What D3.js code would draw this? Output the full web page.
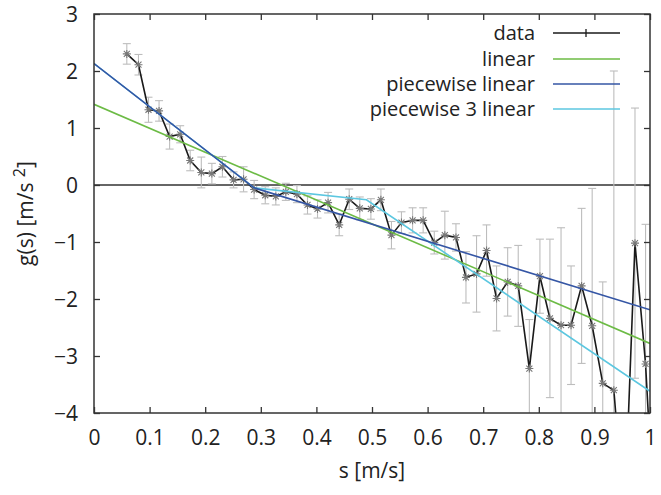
<!DOCTYPE html>
<html><head><meta charset="utf-8">
<script src="https://cdn.jsdelivr.net/npm/d3@7"></script>
<style>body{margin:0;background:#fff}svg{display:block}text{font-family:"Open Sans",sans-serif;fill:#222}</style>
</head><body>
<script>
// ---- data ----
const sVals = [0.059,0.080,0.098,0.117,0.136,0.155,0.173,0.193,0.212,0.231,0.251,0.269,0.288,0.308,0.327,0.345,0.365,0.384,0.402,0.421,0.441,0.459,0.478,0.498,0.516,0.535,0.553,0.573,0.592,0.612,0.631,0.651,0.669,0.688,0.706,0.724,0.744,0.763,0.783,0.802,0.820,0.840,0.858,0.877,0.896,0.915,0.935,0.954,0.973,0.992,1.012];
const gVals = [2.30,2.11,1.32,1.30,0.85,0.89,0.43,0.22,0.20,0.32,0.09,0.10,-0.08,-0.18,-0.20,-0.12,-0.16,-0.35,-0.42,-0.31,-0.70,-0.25,-0.41,-0.42,-0.26,-0.88,-0.66,-0.62,-0.62,-1.01,-0.88,-0.92,-1.62,-1.56,-1.15,-1.99,-1.70,-1.77,-3.22,-1.60,-2.34,-2.46,-2.46,-1.77,-2.47,-3.48,-3.60,-5.9,-1.02,-3.14,-6.7];
const gErr = [0.18,0.18,0.22,0.18,0.22,0.15,0.18,0.27,0.18,0.18,0.14,0.22,0.16,0.15,0.15,0.15,0.15,0.16,0.16,0.18,0.19,0.18,0.20,0.18,0.19,0.24,0.19,0.22,0.22,0.20,0.42,0.24,0.45,0.67,0.45,0.57,0.60,0.71,0.86,0.65,1.39,1.71,1.04,1.36,2.41,1.78,5.6,1.0,2.37,2.45,1.0];

const linearS = [0, 1];
const linearG = [1.415, -2.78];
const pwS = [0, 0.288, 1];
const pwG = [2.13, -0.05, -2.19];
const pw3S = [0, 0.288, 0.49, 1];
const pw3G = [2.13, -0.05, -0.26, -3.62];

const xTicks = [0,0.1,0.2,0.3,0.4,0.5,0.6,0.7,0.8,0.9,1];
const yTicks = [-4,-3,-2,-1,0,1,2,3];
const legendLabels = ["data","linear","piecewise linear","piecewise 3 linear"];
const colors = {data:"#1a1a1a", linear:"#6cbb45", pw:"#3556a5", pw3:"#5cc7e0"};

// ---- layout ----
const W = 661, H = 495;
const L = 94, R = 650, T = 14, B = 413;
const svg = d3.select("body").append("svg").attr("width", W).attr("height", H);
const x = d3.scaleLinear().domain([0,1]).range([L,R]);
const y = d3.scaleLinear().domain([-4,3]).range([B,T]);

svg.append("defs").append("clipPath").attr("id","clip")
  .append("rect").attr("x",L).attr("y",T).attr("width",R-L).attr("height",B-T);

const plot = svg.append("g").attr("clip-path","url(#clip)");

// zero line
plot.append("line").attr("x1",L).attr("x2",R).attr("y1",y(0)).attr("y2",y(0))
  .attr("stroke","#333").attr("stroke-width",1.5);

const data = sVals.map((s,i)=>({s, g:gVals[i], e:gErr[i]}));

// error bars
const eb = plot.append("g").attr("stroke","#bdbdbd").attr("stroke-width",1.1).attr("fill","none");
data.forEach(d=>{
  const xs = x(d.s), y1 = y(d.g+d.e), y2 = y(d.g-d.e);
  eb.append("line").attr("x1",xs).attr("x2",xs).attr("y1",y1).attr("y2",y2);
  eb.append("line").attr("x1",xs-4).attr("x2",xs+4).attr("y1",y1).attr("y2",y1);
  eb.append("line").attr("x1",xs-4).attr("x2",xs+4).attr("y1",y2).attr("y2",y2);
});

// data line
const line = d3.line().x(d=>x(d[0])).y(d=>y(d[1]));
plot.append("path").attr("d", line(data.map(d=>[d.s,d.g])))
  .attr("fill","none").attr("stroke",colors.data).attr("stroke-width",1.6);

// markers (asterisks)
const mk = plot.append("g").attr("stroke","#777").attr("stroke-width",1.1);
data.forEach(d=>{
  const cx = x(d.s), cy = y(d.g), r = 4;
  mk.append("path").attr("d",
    `M${cx-r},${cy}H${cx+r}M${cx},${cy-r}V${cy+r}M${cx-r*0.75},${cy-r*0.75}L${cx+r*0.75},${cy+r*0.75}M${cx-r*0.75},${cy+r*0.75}L${cx+r*0.75},${cy-r*0.75}`);
});

// fitted lines
plot.append("path").attr("d", line(linearS.map((s,i)=>[s,linearG[i]])))
  .attr("fill","none").attr("stroke",colors.linear).attr("stroke-width",1.6);
plot.append("path").attr("d", line(pw3S.map((s,i)=>[s,pw3G[i]])))
  .attr("fill","none").attr("stroke",colors.pw3).attr("stroke-width",1.6);
plot.append("path").attr("d", line(pwS.map((s,i)=>[s,pwG[i]])))
  .attr("fill","none").attr("stroke",colors.pw).attr("stroke-width",1.6);

// frame
svg.append("rect").attr("x",L).attr("y",T).attr("width",R-L).attr("height",B-T)
  .attr("fill","none").attr("stroke","#333").attr("stroke-width",1.5);

// axes with inward ticks
const tl = 6;
const bottomAx = d3.axisBottom(x).tickValues(xTicks).tickFormat(d3.format("")).tickSizeInner(-tl).tickSizeOuter(0).tickPadding(14);
const gb = svg.append("g").attr("transform",`translate(0,${B})`).call(bottomAx);
const topAx = d3.axisTop(x).tickValues(xTicks).tickFormat("").tickSizeInner(-tl).tickSizeOuter(0);
const gt = svg.append("g").attr("transform",`translate(0,${T})`).call(topAx);
const leftAx = d3.axisLeft(y).tickValues(yTicks).tickFormat(d3.format("")).tickSizeInner(-tl).tickSizeOuter(0).tickPadding(14);
const gl = svg.append("g").attr("transform",`translate(${L},0)`).call(leftAx);
const rightAx = d3.axisRight(y).tickValues(yTicks).tickFormat("").tickSizeInner(-tl).tickSizeOuter(0);
const gr = svg.append("g").attr("transform",`translate(${R},0)`).call(rightAx);
[gb,gt,gl,gr].forEach(g=>{
  g.select(".domain").remove();
  g.selectAll(".tick line").attr("stroke","#333").attr("stroke-width",1.3);
  g.selectAll("text").style("font-size","21px").attr("fill","#222").style("font-family",'"Open Sans",sans-serif');
});
gb.selectAll(".tick text").attr("dy","0.85em");
gl.selectAll(".tick text").attr("dy","0.35em").attr("x",-16);

// axis labels
svg.append("text").attr("x",(L+R)/2).attr("y",478).attr("text-anchor","middle")
  .style("font-size","21px").text("s [m/s]");
const yl = svg.append("text").attr("transform",`translate(33,${(T+B)/2}) rotate(-90)`)
  .attr("text-anchor","middle").style("font-size","21px");
yl.append("tspan").text("g(s) [m/s ");
yl.append("tspan").attr("dy",-8).style("font-size","16px").text("2");
yl.append("tspan").attr("dy",8).text("]");

// legend
const legY = [33,59,84,109];
const legCol = [colors.data, colors.linear, colors.pw, colors.pw3];
const lg = svg.append("g");
legendLabels.forEach((lab,i)=>{
  lg.append("text").attr("x",535).attr("y",legY[i]).attr("dy","0.35em").attr("text-anchor","end")
    .style("font-size","20px").text(lab);
  lg.append("line").attr("x1",553).attr("x2",620).attr("y1",legY[i]).attr("y2",legY[i])
    .attr("stroke",legCol[i]).attr("stroke-width",1.6);
});
lg.append("line").attr("x1",586).attr("x2",586).attr("y1",legY[0]-4).attr("y2",legY[0]+4)
  .attr("stroke",colors.data).attr("stroke-width",1.3);
</script>
</body></html>
